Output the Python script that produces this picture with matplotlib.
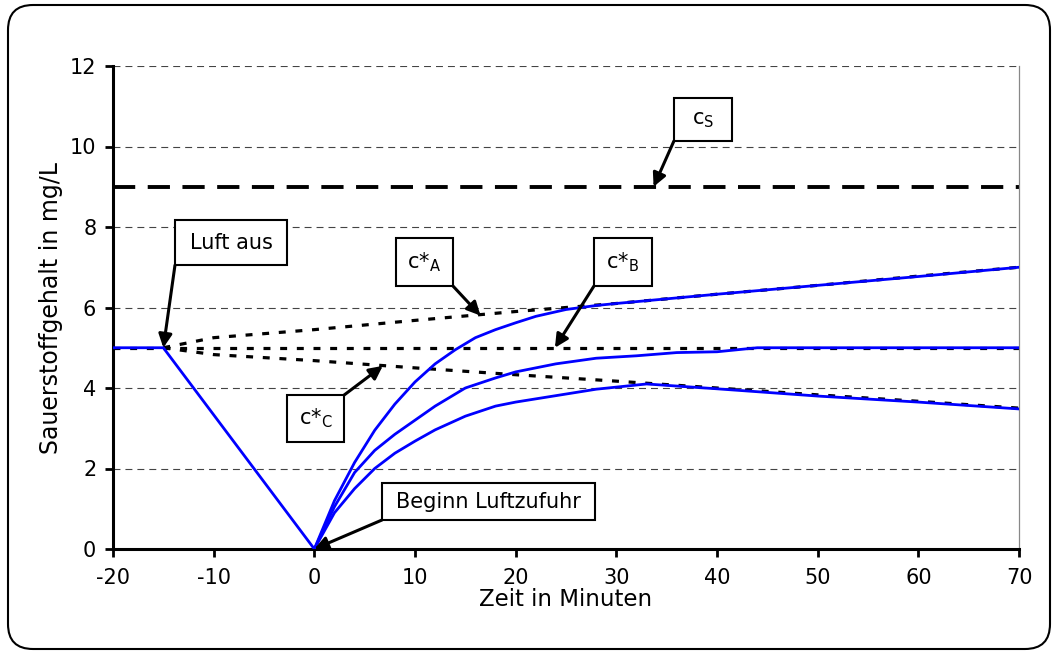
import numpy as np
import matplotlib
matplotlib.use('Agg')
import matplotlib.pyplot as plt
from matplotlib.patches import Rectangle, FancyBboxPatch

plt.rcParams['font.family'] = ['DejaVu Sans']
plt.rcParams['lines.scale_dashes'] = False
plt.rcParams['mathtext.default'] = 'regular'
plt.rcParams['axes.unicode_minus'] = False

# blue measured curve before aeration (air off at -15 min)
t_pre = [-20, -15, 0]
c_pre = [5.0, 5.0, 0.0]

# three reaeration curves after air start
t_A = [0, 2, 4, 6, 8, 10, 12, 14, 16, 18, 20, 22, 25, 28, 30, 40, 50, 60, 70]
c_A = [0, 1.2, 2.15, 2.95, 3.6, 4.15, 4.6, 4.95, 5.25, 5.45, 5.62, 5.78, 5.95, 6.05, 6.1, 6.33, 6.55, 6.77, 7.0]

t_B = [0, 2, 4, 6, 8, 10, 12, 15, 18, 20, 24, 28, 32, 36, 40, 44, 50, 70]
c_B = [0, 1.05, 1.9, 2.45, 2.85, 3.2, 3.55, 4.0, 4.25, 4.4, 4.6, 4.74, 4.8, 4.88, 4.9, 5.0, 5.0, 5.0]

t_C = [0, 2, 4, 6, 8, 10, 12, 15, 18, 20, 25, 28, 33, 40, 50, 60, 70]
c_C = [0, 0.9, 1.5, 2.0, 2.38, 2.68, 2.96, 3.3, 3.55, 3.65, 3.85, 3.97, 4.1, 3.98, 3.8, 3.65, 3.48]

# equilibrium concentrations c* (dotted)
t_sA = [-15, -10, 0, 10, 20, 30, 40, 50, 60, 70]
c_sA = [5.0, 5.25, 5.45, 5.68, 5.9, 6.1, 6.33, 6.55, 6.78, 7.0]
t_sB = [-20, 70]
c_sB = [5.0, 5.0]
t_sC = [-15, -10, 0, 10, 20, 30, 40, 50, 60, 70]
c_sC = [5.0, 4.83, 4.68, 4.5, 4.33, 4.17, 4.0, 3.83, 3.67, 3.5]

# saturation
t_sat = [-20, 70]
c_sat = [9.0, 9.0]

xticks = list(range(-20, 71, 10))
yticks = list(range(0, 13, 2))

fig = plt.figure(figsize=(10.52, 6.51), dpi=100)
ax = fig.add_axes([113 / 1052, 102 / 651, 906 / 1052, 483 / 651])

for y in yticks[1:]:
    ax.axhline(y, color='#444444', lw=0.8, ls=(0, (5, 3.6)), zorder=1)

dot = (0, (5, 7))
ax.plot(t_sA, c_sA, color='k', lw=2.3, ls=dot, zorder=2)
ax.plot(t_sB, c_sB, color='k', lw=2.3, ls=dot, zorder=2)
ax.plot(t_sC, c_sC, color='k', lw=2.3, ls=dot, zorder=2)
ax.plot(t_sat, c_sat, color='k', lw=2.8, ls=(0, (16, 9)), zorder=2)

ax.plot(t_pre, c_pre, color='#0000ff', lw=2.0, zorder=3)
ax.plot(t_A, c_A, color='#0000ff', lw=2.0, zorder=3)
ax.plot(t_B, c_B, color='#0000ff', lw=2.0, zorder=3)
ax.plot(t_C, c_C, color='#0000ff', lw=2.0, zorder=3)

ax.set_xlim(-20, 70)
ax.set_ylim(0, 12)
ax.set_xticks(xticks)
ax.set_yticks(yticks)
ax.tick_params(axis='both', direction='out', length=6, width=2, labelsize=15, color='k')
ax.tick_params(axis='x', pad=8)
ax.tick_params(axis='y', pad=6)
ax.spines['left'].set_linewidth(2.2)
ax.spines['bottom'].set_linewidth(2.2)
ax.spines['top'].set_visible(False)
ax.spines['right'].set_color('#888888')
ax.spines['right'].set_linewidth(0.9)
ax.set_xlabel('Zeit in Minuten', fontsize=16.5, labelpad=0)
ax.set_ylabel('Sauerstoffgehalt in mg/L', fontsize=17, labelpad=5)

# annotation boxes: (text, box center in data, box w/h in px, arrow corner, arrow target)
notes = [
    ('Luft aus', (-8.28, 7.61), (112, 45), (0, 0), (-15, 5.0)),
    ('c*$_A$', (10.94, 7.13), (57, 48), (1, 0), (16.5, 5.8)),
    ('c*$_B$', (30.66, 7.13), (58, 48), (0, 0), (23.9, 5.0)),
    ('c*$_C$', (0.12, 3.24), (57, 47), (1, 1), (6.8, 4.55)),
    ('c$_S$', (38.6, 10.67), (58, 43), (0, 0), (33.7, 9.0)),
    ('Beginn Luftzufuhr', (17.3, 1.18), (213, 37), (0, 0), (0, 0)),
]

fig.canvas.draw()
for text, center, size, corner, target in notes:
    cx, cy = ax.transData.transform(center)
    w, h = size
    x0, y0 = cx - w / 2, cy - h / 2
    rect = Rectangle((x0, y0), w, h, transform=None, facecolor='white',
                     edgecolor='k', lw=1.5, zorder=5)
    fig.add_artist(rect)
    fig.text(cx / 1052, cy / 651, text, ha='center', va='center', fontsize=15, zorder=6)
    px = x0 + corner[0] * w
    py = y0 + corner[1] * h
    ax.annotate('', xy=target, xycoords='data', xytext=(px, py), textcoords='figure pixels',
                arrowprops=dict(arrowstyle='-|>', color='k', lw=2.2, mutation_scale=20,
                                shrinkA=0, shrinkB=0), zorder=6, annotation_clip=False)

border = FancyBboxPatch((8, 2), 1042, 644, boxstyle='round,pad=0,rounding_size=25',
                        transform=None, facecolor='none', edgecolor='k', lw=1.5)
fig.add_artist(border)

fig.savefig('out.png', dpi=100)
